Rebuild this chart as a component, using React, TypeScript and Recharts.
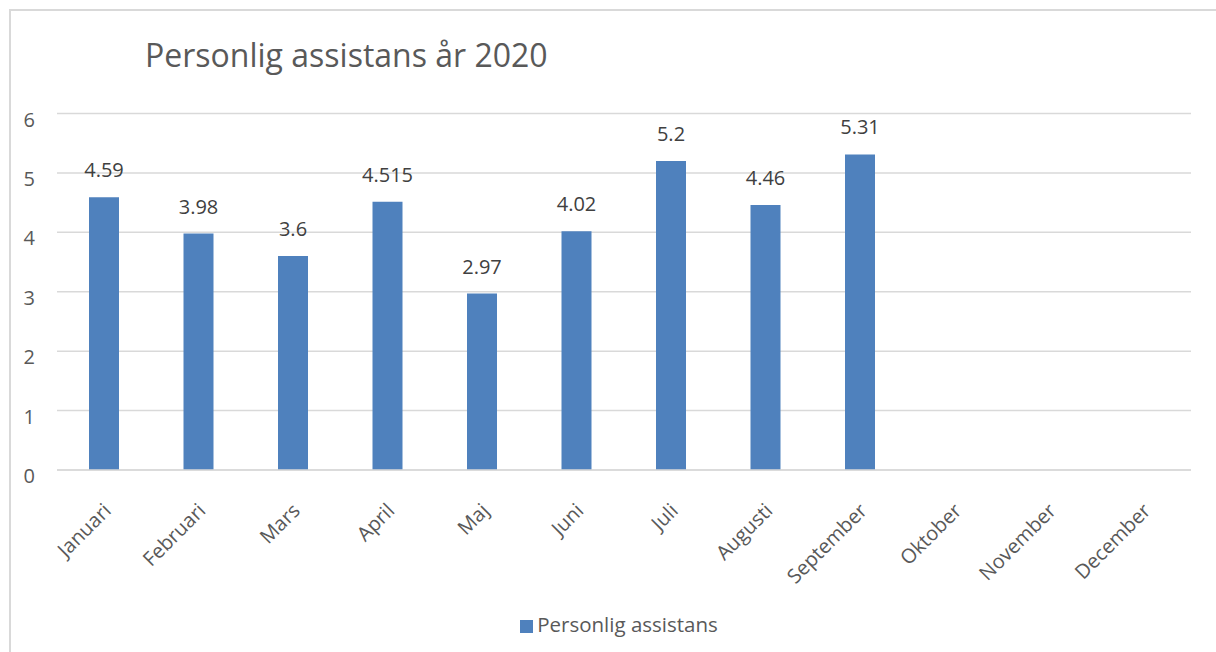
import React from "react"
import { BarChart, Bar, XAxis, YAxis, CartesianGrid, LabelList, Legend } from "recharts"

// Months and values
const months = [
  "Januari", "Februari", "Mars", "April", "Maj", "Juni",
  "Juli", "Augusti", "September", "Oktober", "November", "December",
]
const assistans: (number | null)[] = [4.59, 3.98, 3.6, 4.515, 2.97, 4.02, 5.2, 4.46, 5.31, null, null, null]
const yTicks = [0, 1, 2, 3, 4, 5, 6]

const SERIES = "Personlig assistans"
const TITLE = "Personlig assistans år 2020"

const data = months.map((m, i) => ({ month: m, value: assistans[i] }))

const FONT = "'Open Sans', sans-serif"
const TEXT = "#595959"
const GRID = "#d9d9d9"
const BLUE = "#4f81bd"

function MonthTick(props: any) {
  const { x, payload } = props
  const ax = x + 8
  const ay = 512
  return (
    <text
      x={ax}
      y={ay}
      textAnchor="end"
      fill={TEXT}
      fontSize={20}
      fontFamily={FONT}
      transform={`rotate(-45, ${ax}, ${ay})`}
    >
      {payload.value}
    </text>
  )
}

export default function App() {
  return (
    <div
      style={{
        position: "absolute",
        left: 0,
        top: 0,
        width: 1216,
        height: 652,
        overflow: "hidden",
        background: "#fff",
        fontFamily: FONT,
      }}
    >
      {/* chart frame, cut off on the right and bottom like the screenshot */}
      <div
        style={{
          position: "absolute",
          left: 9,
          top: 9,
          width: 1220,
          height: 660,
          border: `2px solid ${GRID}`,
          boxSizing: "border-box",
        }}
      />
      <div
        style={{
          position: "absolute",
          left: 145,
          top: 33,
          fontSize: 32,
          color: TEXT,
          lineHeight: "44px",
          whiteSpace: "nowrap",
        }}
      >
        {TITLE}
      </div>
      <div style={{ position: "absolute", left: 0, top: 0 }}>
        <BarChart
          width={1216}
          height={652}
          data={data}
          margin={{ top: 113.5, right: 25, bottom: 0, left: 0 }}
        >
          <CartesianGrid vertical={false} stroke={GRID} strokeWidth={1.5} />
          <XAxis
            dataKey="month"
            interval={0}
            height={154}
            tickLine={false}
            axisLine={{ stroke: GRID, strokeWidth: 1.5 }}
            tick={<MonthTick />}
          />
          <YAxis
            width={57}
            domain={[0, 6]}
            ticks={yTicks}
            axisLine={false}
            tickLine={false}
            tickSize={0}
            tickMargin={22}
            tick={{ fill: TEXT, fontSize: 20, fontFamily: FONT, dy: 6 }}
          />
          <Legend
            iconType="square"
            iconSize={13}
            wrapperStyle={{ top: 610, left: 16, width: 1216, fontSize: 20.5, fontFamily: FONT }}
            formatter={(v: string) => <span style={{ color: TEXT }}>{v}</span>}
          />
          <Bar dataKey="value" name={SERIES} fill={BLUE} barSize={30} isAnimationActive={false}>
            <LabelList
              dataKey="value"
              position="top"
              offset={20}
              fill="#404040"
              fontSize={20}
              fontFamily={FONT}
            />
          </Bar>
        </BarChart>
      </div>
    </div>
  )
}
